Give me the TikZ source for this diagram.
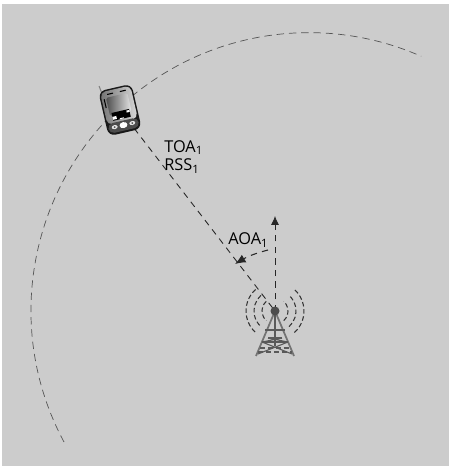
\documentclass[tikz,border=0pt]{standalone}
\usepackage{fontspec}
\setmainfont{Open Sans}
\usetikzlibrary{arrows.meta,positioning}
\definecolor{panelgray}{HTML}{CCCCCC}
\definecolor{arcgray}{HTML}{555555}
\tikzset{
  rangeline/.style={draw=arcgray,line width=.4pt,dash pattern=on 4.2pt off 2.8pt},
  rayline/.style={draw=black!85,line width=.5pt,dash pattern=on 3.6pt off 3pt},
  wave/.style={draw=black!80,line width=.6pt,dash pattern=on 2.6pt off 1.5pt},
  leg/.style={draw=black!55,line width=1pt},
  strut/.style={draw=black!65,line width=.6pt},
  label/.style={font=\fontsize{9.3pt}{10.6pt}\selectfont,inner sep=0pt,align=left}
}
\begin{document}
\begin{tikzpicture}[x=0.02cm,y=0.02cm]
\useasboundingbox (0,0) rectangle (449,466);
\fill[panelgray] (2,0) rectangle (449,462);
\coordinate (mobile) at (120,356);
\coordinate (tower) at (275,155);
\coordinate (north) at (275,250);
\coordinate (bend) at (268,216);
\coordinate (bearing) at (235,202);
% range circle
\draw[rangeline] (64,24) arc[start angle=208.2,end angle=66.2,radius=278];
\draw[rayline] (mobile)--(tower);
\draw[rayline,-{Latex[length=5pt,width=4.5pt]}] (tower)--(north);
\draw[rayline,line width=.6pt,-{Latex[length=6pt,width=5pt]}] (bend) to[bend right=8] (bearing);
\node[label,anchor=north west] (toa) at (164,326) {TOA\textsubscript{1}\\RSS\textsubscript{1}};
\node[label,anchor=west] (aoa) at (228,226) {AOA\textsubscript{1}};
% handset
\begin{scope}[shift={(mobile)},rotate=13]
\draw[line width=.6pt,black!50] (-14,21)--(-15,28);
\fill[black!90,rounded corners=4pt] (-17,-23) rectangle (17,23);
\shade[left color=black!55,right color=black!15,rounded corners=3pt] (-15.5,-12) rectangle (15.5,21.5);
\shade[left color=black!70,right color=black!10,rounded corners=1pt] (-11,-4) rectangle (11,15);
\fill[black] (-9,-9) rectangle (9,-1);
\fill[white] (-9,-8) rectangle (-5,-5) (6,-4) rectangle (9,-2) (-2,-9) rectangle (2,-8);
\draw[black,line width=.6pt] (-9,18)--(-3,18) (4,18)--(10,18) (-13,5)--(-13,14);
\fill[black!70,rounded corners=3pt] (-15.5,-21) rectangle (15.5,-11);
\fill[white] (0,-15.5) ellipse (4 and 3);
\fill[black!10] (-9,-15.5) ellipse (3 and 2) (9,-15.5) ellipse (3 and 2);
\fill[black!70] (-9,-15.5) circle (1) (9,-15.5) circle (1);
\end{scope}
% signal waves
\foreach \r in {13,21,29}{
  \draw[wave] ([shift={(-48:\r)}]tower) arc[start angle=-48,end angle=48,radius=\r];
  \draw[wave] ([shift={(132:\r)}]tower) arc[start angle=132,end angle=228,radius=\r];
}
% mast
\draw[leg] (tower)--(256,110);
\draw[leg] (tower)--(294,110);
\draw[strut] (tower)--(275,120);
\draw[strut] (265,136)--(285,136);
\draw[strut] (268,128)--(282,128) (262,124)--(288,124);
\draw[strut,dash pattern=on 3pt off 1.5pt] (260,118)--(290,118) (258,114)--(292,114);
\draw[strut] (262,124)--(282,128) (288,124)--(268,128) (258,112)--(288,124) (292,112)--(262,124);
\fill[black!70] (tower) circle (4.5);
\end{tikzpicture}
\end{document}
